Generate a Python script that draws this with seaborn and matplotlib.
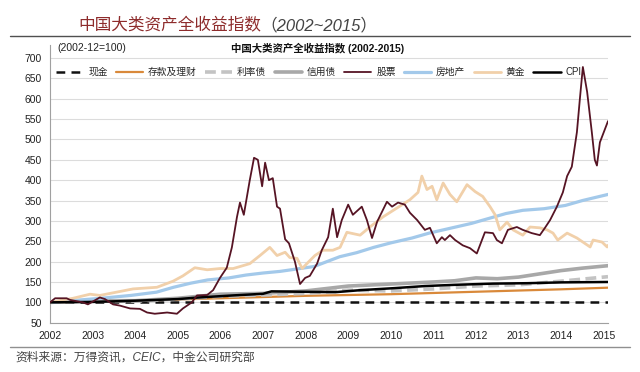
import matplotlib
matplotlib.use('Agg')
import matplotlib.pyplot as plt
from matplotlib.lines import Line2D
import pandas as pd
import seaborn as sns

# ---- data (index, 2002-12 = 100) ----
cash_x = [2002.0, 2015.1]
cash_y = [100, 100]

deposit_x = [2002.0, 2004.0, 2006.0, 2008.0, 2010.0, 2012.0, 2014.0, 2015.1]
deposit_y = [100, 104, 110, 116, 120, 126, 132, 136]

rate_x = [2002.0, 2003.0, 2004.0, 2005.0, 2006.0, 2007.0, 2008.0, 2009.0, 2010.0,
          2011.0, 2012.0, 2013.0, 2014.0, 2015.1]
rate_y = [100, 104, 103, 108, 115, 118, 122, 130, 128, 133, 140, 143, 152, 163]

credit_x = [2002.0, 2003.0, 2004.0, 2005.0, 2006.0, 2007.0, 2008.0, 2009.0, 2010.0,
            2011.0, 2011.5, 2012.0, 2012.5, 2013.0, 2013.5, 2014.0, 2014.5, 2015.1]
credit_y = [100, 104, 104, 110, 120, 122, 128, 140, 145, 150, 153, 160, 158, 162,
            170, 178, 184, 190]

stock_x = [2002.0, 2002.12, 2002.39, 2002.47, 2002.77, 2002.89, 2003.17, 2003.29, 2003.48,
           2003.64, 2003.88, 2004.11, 2004.28, 2004.46, 2004.75, 2004.98, 2005.12, 2005.33,
           2005.45, 2005.69, 2005.83, 2005.99, 2006.15, 2006.27, 2006.39, 2006.46, 2006.55,
           2006.69, 2006.79, 2006.88, 2006.98, 2007.05, 2007.14, 2007.23, 2007.33, 2007.40,
           2007.52, 2007.61, 2007.75, 2007.87, 2007.99, 2008.10, 2008.27, 2008.38, 2008.53,
           2008.64, 2008.74, 2008.85, 2009.00, 2009.11, 2009.32, 2009.44, 2009.56, 2009.68,
           2009.91, 2010.03, 2010.17, 2010.33, 2010.45, 2010.62, 2010.80, 2010.92, 2011.08,
           2011.20, 2011.27, 2011.39, 2011.51, 2011.69, 2011.86, 2012.02, 2012.21, 2012.40,
           2012.49, 2012.61, 2012.75, 2012.96, 2013.10, 2013.31, 2013.50, 2013.62, 2013.74,
           2013.90, 2014.04, 2014.14, 2014.25, 2014.37, 2014.44, 2014.51, 2014.61, 2014.72,
           2014.79, 2014.84, 2014.91, 2015.10]
stock_y = [100, 110, 110, 106, 100, 95, 112, 108, 95,
           92, 85, 84, 75, 72, 75, 72, 85, 100,
           117, 118, 130, 160, 185, 235, 310, 345, 315,
           400, 455, 450, 385, 443, 400, 405, 335, 330,
           255, 245, 200, 145, 160, 165, 195, 228, 260,
           330, 260, 302, 340, 315, 335, 302, 258, 298,
           347, 335, 345, 340, 320, 302, 278, 283, 245,
           260, 253, 265, 253, 240, 233, 220, 272, 270,
           253, 245, 278, 285, 278, 270, 265, 283, 302,
           335, 370, 410, 433, 518, 600, 678, 617, 518,
           450, 436, 493, 545]

estate_x = [2002.0, 2003.2, 2003.9, 2004.5, 2004.9, 2005.3, 2005.7, 2006.2, 2006.6, 2007.0,
            2007.4, 2007.8, 2008.2, 2008.5, 2008.8, 2009.2, 2009.6, 2010.0, 2010.5, 2010.9,
            2011.4, 2011.9, 2012.3, 2012.7, 2013.1, 2013.6, 2014.1, 2014.5, 2015.1]
estate_y = [100, 110, 117, 125, 137, 147, 155, 160, 167, 172,
            176, 182, 188, 200, 212, 222, 235, 246, 258, 270,
            282, 294, 306, 318, 326, 330, 338, 350, 365]

gold_x = [2002.0, 2002.54, 2002.94, 2003.17, 2003.95, 2004.51, 2004.89, 2005.12, 2005.40,
          2005.69, 2005.99, 2006.30, 2006.69, 2006.93, 2007.16, 2007.33, 2007.52, 2007.63,
          2007.80, 2007.92, 2008.03, 2008.22, 2008.41, 2008.64, 2008.81, 2008.97, 2009.28,
          2009.51, 2009.82, 2010.15, 2010.45, 2010.64, 2010.73, 2010.85, 2010.97, 2011.08,
          2011.23, 2011.39, 2011.55, 2011.79, 2011.98, 2012.16, 2012.33, 2012.45, 2012.56,
          2012.73, 2012.87, 2013.10, 2013.27, 2013.50, 2013.67, 2013.81, 2013.92, 2014.14,
          2014.37, 2014.68, 2014.75, 2014.96, 2015.08, 2015.10]
gold_y = [100, 110, 120, 117, 133, 137, 152, 165, 185,
          180, 183, 183, 195, 215, 235, 215, 223, 210,
          208, 183, 195, 215, 228, 228, 235, 272, 265,
          285, 310, 332, 352, 370, 410, 377, 385, 352,
          393, 365, 347, 389, 372, 360, 335, 315, 278,
          297, 278, 265, 285, 283, 278, 270, 253, 270,
          258, 236, 253, 248, 236, 240]

cpi_x = [2002.0, 2003.0, 2004.0, 2005.0, 2005.5, 2006.3, 2007.0, 2007.2, 2007.9, 2008.7,
         2009.3, 2010.1, 2010.8, 2011.5, 2012.4, 2013.2, 2014.0, 2015.1]
cpi_y = [100, 101, 104, 108, 112, 117, 121, 127, 126, 125,
         130, 135, 140, 143, 146, 147, 149, 150]

labels = ['现金', '存款及理财', '利率债', '信用债', '股票', '房地产', '黄金', 'CPI']
xs = [cash_x, deposit_x, rate_x, credit_x, stock_x, estate_x, gold_x, cpi_x]
ys = [cash_y, deposit_y, rate_y, credit_y, stock_y, estate_y, gold_y, cpi_y]
colors = ['#111111', '#d9893a', '#c3c3c3', '#a8a8a8', '#561424', '#a3c9ea', '#f1d0aa', '#000000']
widths = [1.8, 1.6, 2.6, 2.6, 1.3, 2.3, 2.0, 1.8]
styles = [(0, (3.5, 2.5)), '-', (0, (3, 1.5)), '-', '-', '-', '-', '-']
zorders = [3, 3, 3, 3, 6, 4, 5, 5]

years = list(range(2002, 2016))
yticks = list(range(50, 701, 50))

sns.set_style('white')
plt.rcParams['font.family'] = ['Liberation Sans', 'Noto Sans CJK SC']

fig = plt.figure(figsize=(6.4, 3.72), dpi=100)
ax = fig.add_axes([50 / 640, 1 - 322.7 / 372, 558 / 640, (322.7 - 45) / 372])

for x, y, lab, c, w, s, z in zip(xs, ys, labels, colors, widths, styles, zorders):
    df = pd.DataFrame({'year': x, 'value': y})
    sns.lineplot(data=df, x='year', y='value', ax=ax, color=c, linewidth=w,
                 linestyle=s, label=lab, zorder=z)

ax.set_xlim(2002, 2015.1)
ax.set_ylim(50, 732)
ax.set_xticks(years)
ax.set_xticklabels([str(v) for v in years])
ax.set_yticks(yticks)
ax.set_xlabel('')
ax.set_ylabel('')
ax.yaxis.grid(True, color='#dcdcdc', linewidth=0.8)
ax.xaxis.grid(False)
for sp in ['top', 'right']:
    ax.spines[sp].set_visible(False)
for sp in ['left', 'bottom']:
    ax.spines[sp].set_color('#a0a0a0')
    ax.spines[sp].set_linewidth(0.8)
ax.tick_params(axis='both', labelsize=7.5, colors='#222222', length=3,
               width=0.8, direction='out', pad=3)
ax.tick_params(axis='both', color='#a0a0a0')

handles, labs = ax.get_legend_handles_labels()
ax.legend(handles, labs, ncol=8, frameon=False, fontsize=7,
          loc='center left', bbox_to_anchor=(56 / 640, 1 - 72 / 372),
          bbox_transform=fig.transFigure, handlelength=2.8, handletextpad=0.5,
          columnspacing=0.85, borderaxespad=0, borderpad=0)

fig.text(57 / 640, 1 - 48 / 372, '(2002-12=100)', fontsize=7.5, color='#222222', va='center')
fig.text(318 / 640, 1 - 48 / 372, '中国大类资产全收益指数 (2002-2015)', fontsize=7.5,
         fontweight='bold', color='#111111', ha='center', va='center')

t1 = fig.text(78 / 640, 1 - 25 / 372, '中国大类资产全收益指数', fontsize=12,
              style='italic', color='#8e2c2c', va='center')
plt.annotate('（2002~2015）', xy=(1, 0.5), xycoords=t1, va='center', ha='left',
             fontsize=12, style='italic', color='#444444')

fig.add_artist(Line2D([0.015, 0.985], [1 - 36 / 372] * 2, color='#505050', linewidth=1.0))
fig.add_artist(Line2D([0.015, 0.985], [1 - 347 / 372] * 2, color='#909090', linewidth=1.0))
fig.text(15 / 640, 1 - 358 / 372, '资料来源：万得资讯，CEIC，中金公司研究部', fontsize=8.5,
         style='italic', color='#444444', va='center')

fig.savefig('out.png', dpi=100)
